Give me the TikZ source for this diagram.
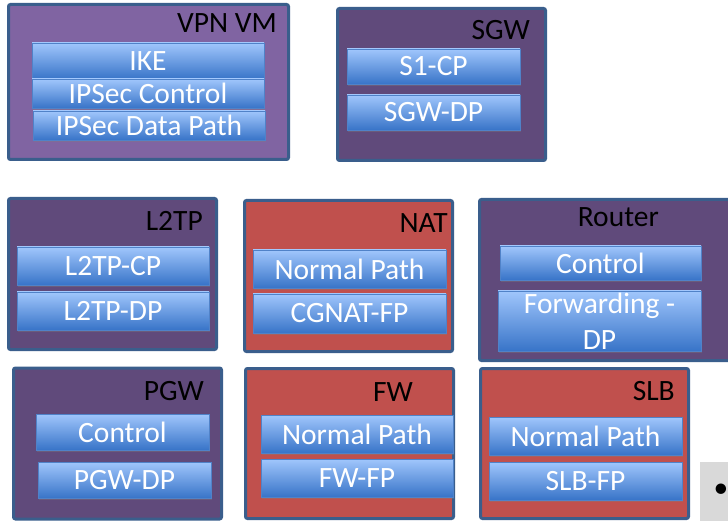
\documentclass[tikz,border=0pt]{standalone}
\usepackage{fontspec}
\setmainfont{Carlito}
\usetikzlibrary{shadows}
\definecolor{frameblue}{RGB}{58,94,140}
\definecolor{vpnpurple}{RGB}{128,100,162}
\definecolor{vmpurple}{RGB}{96,74,123}
\definecolor{nfred}{RGB}{192,80,77}
\definecolor{modtop}{RGB}{160,198,252}
\definecolor{modbot}{RGB}{56,116,200}
\definecolor{modedge}{RGB}{80,130,200}
\definecolor{panelgray}{RGB}{217,217,217}
\tikzset{
  vmbox/.style={draw=frameblue, line width=3pt, rounded corners=2pt,
    inner sep=0pt, anchor=center},
  vmtitle/.style={font=\fontsize{29.5}{31}\selectfont, text=black,
    anchor=base east, inner sep=0pt},
  module/.style={draw=modedge, line width=0.8pt, top color=modtop,
    bottom color=modbot, text=white, inner sep=0pt, anchor=center,
    font=\fontsize{29.5}{36}\selectfont,
    drop shadow={shadow xshift=1pt, shadow yshift=-2pt, opacity=0.35}},
}
\begin{document}
\begin{tikzpicture}[x=1pt,y=-1pt]
\clip (0,0) rectangle (728,521);
\fill[white] (0,0) rectangle (728,521);

% VPN VM
\node[vmbox, fill=vpnpurple, minimum width=280, minimum height=155] (vpn) at (148.5,82) {};
\node[vmtitle] (vpnt) at (277,33) {VPN VM};
\node[module, minimum width=232, minimum height=36] (ike) at (148,61) {IKE};
\node[module, minimum width=232, minimum height=29] (ipc) at (148,93.5) {IPSec Control};
\node[module, minimum width=232, minimum height=29] (ipd) at (149,125.5) {IPSec Data Path};

% SGW
\node[vmbox, fill=vmpurple, minimum width=208, minimum height=152] (sgw) at (441.5,84.5) {};
\node[vmtitle] (sgwt) at (530,40) {SGW};
\node[module, minimum width=173, minimum height=35] (s1cp) at (433.5,66.5) {S1-CP};
\node[module, minimum width=173, minimum height=35] (sgwdp) at (433.5,112.5) {SGW-DP};

% L2TP
\node[vmbox, fill=vmpurple, minimum width=208, minimum height=151] (l2tp) at (112.5,274) {};
\node[vmtitle] (l2tpt) at (203,231) {L2TP};
\node[module, minimum width=192, minimum height=38] (l2cp) at (113,266) {L2TP-CP};
\node[module, minimum width=192, minimum height=38] (l2dp) at (113,311) {L2TP-DP};

% PGW
\node[vmbox, fill=vmpurple, minimum width=208, minimum height=151] (pgw) at (117.5,443.5) {};
\node[vmtitle] (pgwt) at (204,400) {PGW};
\node[module, minimum width=173, minimum height=36] (pgwc) at (122.5,432) {Control};
\node[module, minimum width=173, minimum height=36] (pgwdp) at (124.5,480) {PGW-DP};

% NAT
\node[vmbox, fill=nfred, minimum width=208, minimum height=151] (nat) at (348.5,276) {};
\node[vmtitle] (natt) at (448,233) {NAT};
\node[module, minimum width=193, minimum height=38] (natnp) at (349.5,269) {Normal Path};
\node[module, minimum width=193, minimum height=39] (cgnat) at (349.5,313.5) {CGNAT-FP};

% FW
\node[vmbox, fill=nfred, minimum width=208, minimum height=150] (fw) at (349.5,443.5) {};
\node[vmtitle] (fwt) at (413,401) {FW};
\node[module, minimum width=192, minimum height=38] (fwnp) at (357,434) {Normal Path};
\node[module, minimum width=192, minimum height=38] (fwfp) at (357,478) {FW-FP};

% Router
\node[vmbox, fill=vmpurple, minimum width=260, minimum height=161] (rtr) at (609.5,280) {};
\node[vmtitle] (rtrt) at (659,227) {Router};
\node[module, minimum width=201, minimum height=34] (rtrc) at (600.5,263) {Control};
\node[module, minimum width=203, minimum height=60, align=center] (rtrf) at (599.5,321) {Forwarding -\\DP};

% SLB
\node[vmbox, fill=nfred, minimum width=208, minimum height=150] (slb) at (584.5,443.5) {};
\node[vmtitle] (slbt) at (675,400) {SLB};
\node[module, minimum width=193, minimum height=38] (slbnp) at (585.5,436) {Normal Path};
\node[module, minimum width=193, minimum height=38] (slbfp) at (585.5,481) {SLB-FP};

% Text panel at the lower right edge
\fill[panelgray] (700,462) rectangle (740,530);
\node[font=\fontsize{29.5}{31}\selectfont, anchor=center, inner sep=0pt] (bul) at (721,491) {•};
\end{tikzpicture}
\end{document}
